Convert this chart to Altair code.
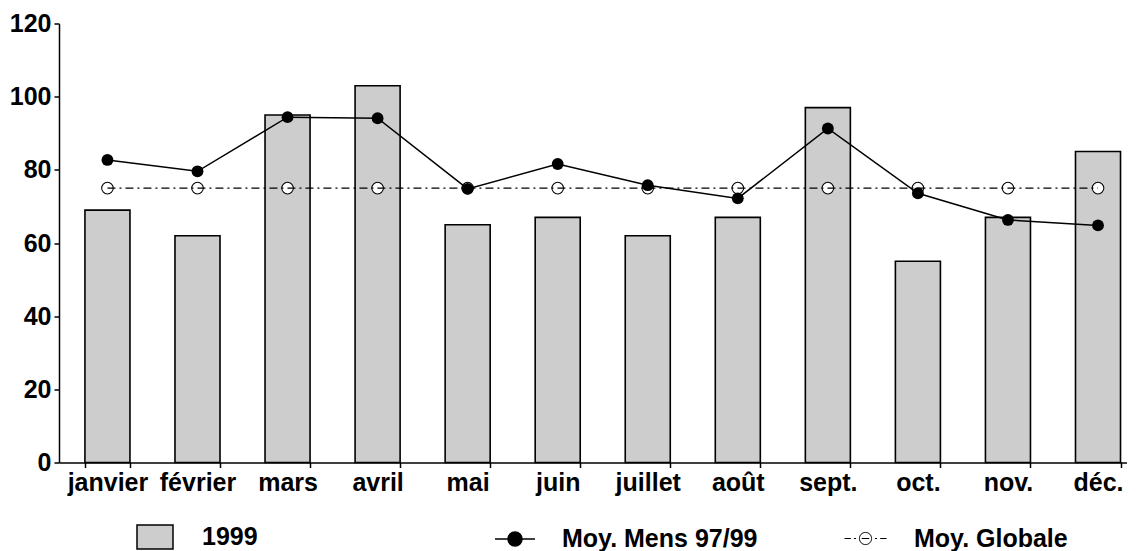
import altair as alt
import pandas as pd

months = ["janvier", "février", "mars", "avril", "mai", "juin",
          "juillet", "août", "sept.", "oct.", "nov.", "déc."]
v1999 = [69, 62, 95, 103, 65, 67, 62, 67, 97, 55, 67, 85]
moy_mens = [82.7, 79.6, 94.4, 94.1, 74.8, 81.6, 75.8, 72.2, 91.3, 73.6, 66.3, 64.8]
moy_globale = [75] * 12

df = pd.DataFrame({
    "month": months,
    "v1999": v1999,
    "mens": moy_mens,
    "glob": moy_globale,
    "s1": "1999",
    "s2": "Moy. Mens 97/99",
    "s3": "Moy. Globale",
})

FONT = "Liberation Sans"
FS = 25
LBL = dict(labelFont=FONT, labelFontSize=FS, labelFontWeight="bold",
           labelColor="black", labelLimit=0)

x = alt.X("month:N", sort=months,
          scale=alt.Scale(paddingInner=0.5, paddingOuter=0.18, align=0.8),
          axis=alt.Axis(title=None, labelAngle=0, tickBand="extent",
                        tickSize=5, labelPadding=3, domainColor="black",
                        domainWidth=1.5, tickColor="black", tickWidth=1.5,
                        grid=False, **LBL))
y = alt.Y("v1999:Q", scale=alt.Scale(domain=[0, 120], nice=False),
          axis=alt.Axis(title=None, values=[0, 20, 40, 60, 80, 100, 120],
                        tickSize=5, labelPadding=3, domainColor="black",
                        domainWidth=1.5, tickColor="black", tickWidth=1.5,
                        grid=False, **LBL))

base = alt.Chart(df)

leg_common = dict(title=None, orient="none", labelFont=FONT, labelFontSize=FS,
                  labelFontWeight="bold", labelColor="black", labelLimit=0)

bars = base.mark_bar(stroke="black", strokeWidth=1.6).encode(
    x=x, y=y,
    fill=alt.Fill("s1:N", scale=alt.Scale(domain=["1999"], range=["#cdcdcd"]),
                  legend=alt.Legend(symbolType="M-1,-0.667H1V0.667H-1Z",
                                    symbolSize=1296, symbolStrokeColor="black",
                                    symbolStrokeWidth=1.5,
                                    legendX=77, legendY=494.5, labelOffset=28,
                                    **leg_common)),
)

glob_pts = base.mark_point(shape="circle", filled=False, fill="white",
                           strokeWidth=1.1, size=135, opacity=1).encode(
    x=x, y=alt.Y("glob:Q"),
    color=alt.Color("s3:N", scale=alt.Scale(domain=["Moy. Globale"], range=["black"]),
                    legend=alt.Legend(
                        symbolType="M-1,0H-0.7M-0.55,0H-0.45M0.45,0H0.55M0.7,0H1"
                                   "M0.29,0A0.29,0.29,0,1,1,-0.29,0A0.29,0.29,0,1,1,0.29,0Z"
                                   "M-0.18,0H0.18",
                        symbolSize=1764, symbolStrokeColor="black",
                        symbolFillColor="white", symbolStrokeWidth=1,
                        symbolOpacity=1,
                        legendX=785, legendY=493.5, labelOffset=27,
                        **leg_common)),
)

glob_line = base.mark_line(color="black", strokeWidth=1.3,
                           strokeDash=[8, 4, 2, 4]).encode(
    x=x, y=alt.Y("glob:Q"),
)

mens_line = base.mark_line(strokeWidth=1.5).encode(
    x=x, y=alt.Y("mens:Q"),
    stroke=alt.Stroke("s2:N", scale=alt.Scale(domain=["Moy. Mens 97/99"], range=["black"]),
                      legend=alt.Legend(
                          symbolType="M-1,0H1M0.35,0A0.35,0.35,0,1,1,-0.35,0A0.35,0.35,0,1,1,0.35,0Z",
                          symbolSize=1600, symbolFillColor="black",
                          symbolStrokeWidth=1.5,
                          legendX=435, legendY=494.5, labelOffset=26,
                          **leg_common)),
)

mens_pts = base.mark_point(shape="circle", filled=True, color="black",
                           size=140, opacity=1).encode(
    x=x, y=alt.Y("mens:Q"),
)

chart = alt.layer(bars, glob_pts, glob_line, mens_line, mens_pts).resolve_scale(
    y="shared"
).properties(
    width=1068, height=439,
    background="white",
    autosize=alt.AutoSizeParams(type="none"),
    padding={"left": 51, "top": 15.5, "right": 0, "bottom": 88},
).configure_view(strokeWidth=0, stroke="transparent").configure_axis(
    grid=False
)

chart.save("out.html", embed_options={"renderer": "svg", "actions": False})
